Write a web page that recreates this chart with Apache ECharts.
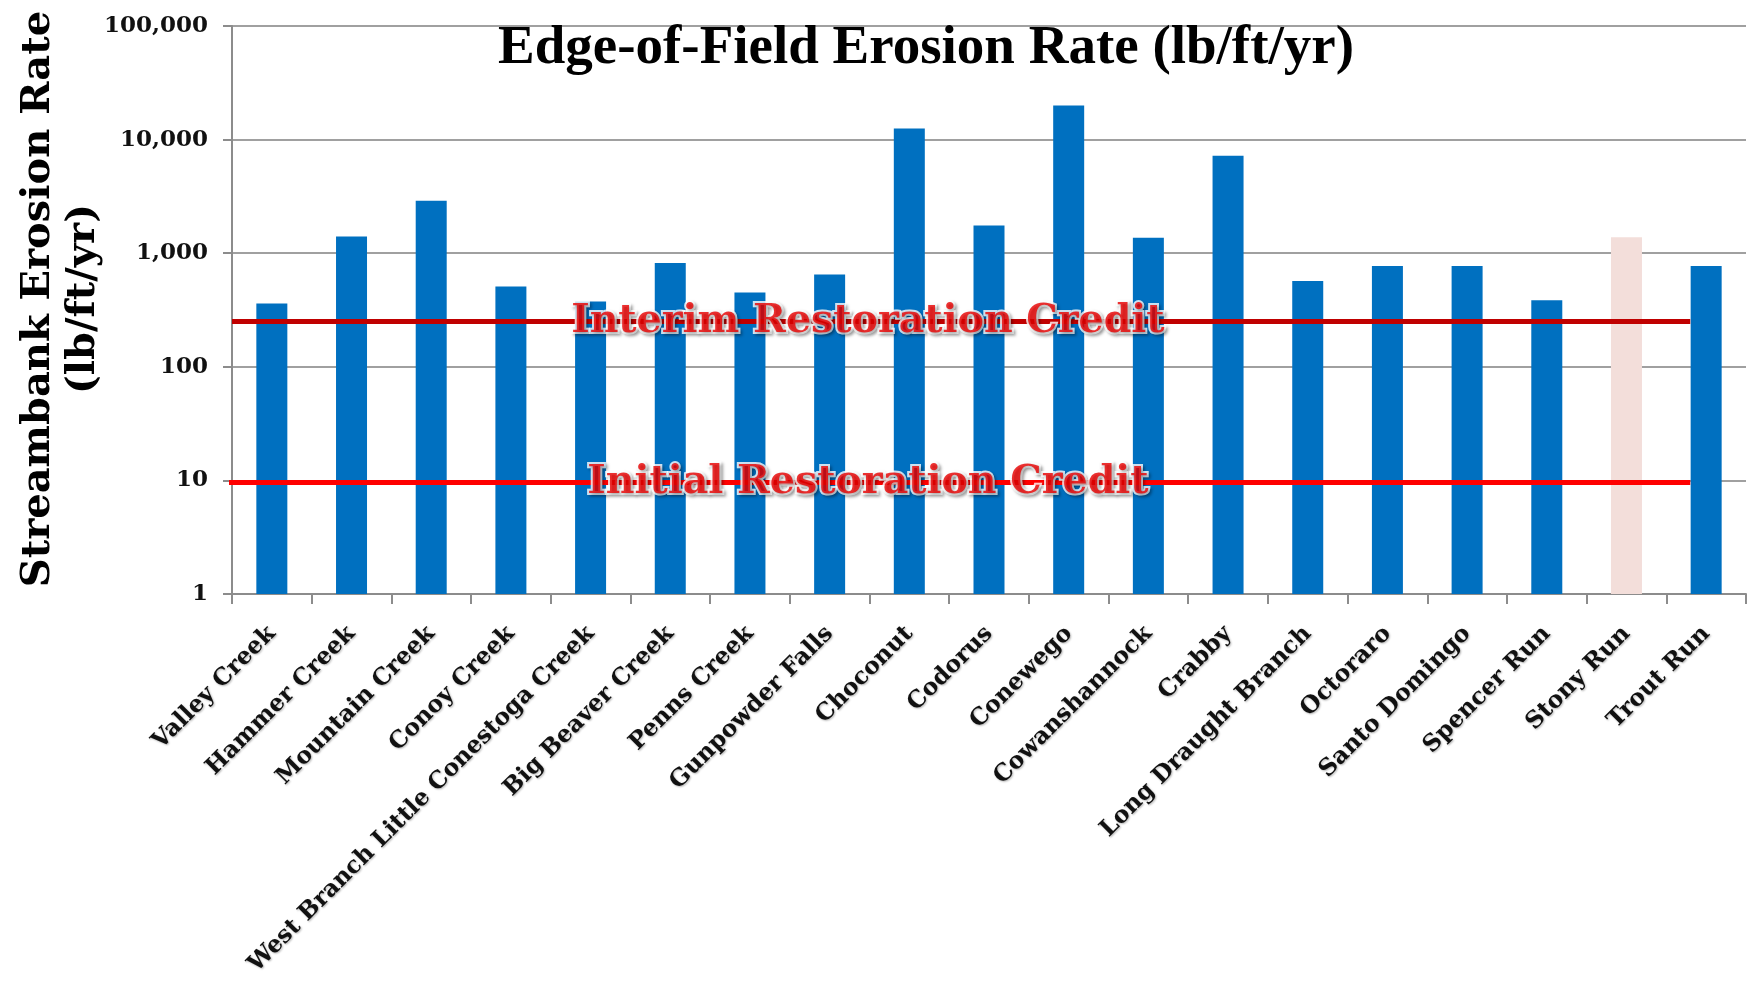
<!DOCTYPE html>
<html>
<head>
<meta charset="utf-8">
<script src="https://cdn.jsdelivr.net/npm/echarts@6/dist/echarts.min.js"></script>
<style>
html,body{margin:0;padding:0;background:#fff;}
#chart{width:1754px;height:986px;}
</style>
</head>
<body>
<div id="chart"></div>
<script>
// ---- data ----
const categories = ['Valley Creek','Hammer Creek','Mountain Creek','Conoy Creek','West Branch Little Conestoga Creek','Big Beaver Creek','Penns Creek','Gunpowder Falls','Choconut','Codorus','Conewego','Cowanshannock','Crabby','Long Draught Branch','Octoraro','Santo Domingo','Spencer Run','Stony Run','Trout Run'];
const erosionRates = [360, 1400, 2900, 510, 375, 820, 450, 650, 12500, 1750, 20000, 1370, 7200, 570, 770, 770, 385, 1380, 770];
const highlightedCategory = 'Stony Run';
const yTickValues = [1, 10, 100, 1000, 10000, 100000];
const creditNames = ['Interim Restoration Credit', 'Initial Restoration Credit'];
const creditValues = [250, 9.6];
const titleText = 'Edge-of-Field Erosion Rate (lb/ft/yr)';
const yAxisTitle = 'Streambank Erosion Rate\n(lb/ft/yr)';

const chart = echarts.init(document.getElementById('chart'));
const georgiaLike = 'DejaVu Serif';
const timesLike = 'Liberation Serif';
const n = categories.length;
const lastIdx = categories.indexOf('Trout Run');

const labelStyle = {
  fontFamily: georgiaLike, fontWeight: 'bold', fontSize: 39.5, color: '#E80000',
  textBorderColor: '#ffffff', textBorderWidth: 4,
  textShadowColor: 'rgba(0,0,0,0.35)', textShadowBlur: 3, textShadowOffsetX: 2, textShadowOffsetY: 2
};

const option = {
  animation: false,
  backgroundColor: '#ffffff',
  title: {
    text: titleText,
    left: 921,
    top: 16,
    textAlign: 'center',
    textStyle: { fontFamily: timesLike, fontWeight: 'bold', fontSize: 55, color: '#000' }
  },
  grid: { left: 232, right: 8, top: 26, bottom: 392, containLabel: false, outerBoundsMode: 'none' },
  xAxis: [
    {
      type: 'category',
      data: categories,
      boundaryGap: true,
      axisLine: { show: true, lineStyle: { color: '#8c8c8c', width: 2 } },
      axisTick: { show: true, interval: 0, length: 10, lineStyle: { color: '#8c8c8c', width: 2 } },
      axisLabel: {
        interval: 0, rotate: 45, margin: 36,
        fontFamily: georgiaLike, fontWeight: 'bold', fontSize: 23.5, color: '#111',
        textShadowColor: 'rgba(0,0,0,0.3)', textShadowBlur: 2, textShadowOffsetX: 1, textShadowOffsetY: 1
      },
      splitLine: { show: false }
    },
    { type: 'value', min: 0, max: n, show: false }
  ],
  yAxis: {
    type: 'log',
    logBase: 10,
    min: yTickValues[0],
    max: yTickValues[yTickValues.length - 1],
    name: yAxisTitle,
    nameLocation: 'middle',
    nameRotate: 90,
    nameGap: 126,
    nameMoveOverlap: false,
    nameTextStyle: { fontFamily: georgiaLike, fontWeight: 'bold', fontSize: 40, lineHeight: 45, color: '#000', padding: [0, 0, 0, 22] },
    axisLine: { show: true, lineStyle: { color: '#8c8c8c', width: 2 } },
    axisTick: { show: true, length: 9, lineStyle: { color: '#8c8c8c', width: 2 } },
    axisLabel: {
      margin: 24,
      fontFamily: georgiaLike, fontWeight: 'bold', fontSize: 23, color: '#111',
      formatter: v => Math.round(v).toLocaleString('en-US')
    },
    splitLine: { show: true, lineStyle: { color: '#a0a0a0', width: 2 } }
  },
  series: [
    {
      type: 'bar',
      data: erosionRates.map((v, i) => ({
        value: v,
        itemStyle: { color: categories[i] === highlightedCategory ? '#F3DEDA' : '#0070C0' }
      })),
      barWidth: 31,
      z: 2
    },
    {
      type: 'line',
      xAxisIndex: 1,
      data: [[0, creditValues[0]], [lastIdx + 0.3, creditValues[0]]],
      symbol: 'none',
      lineStyle: { color: '#C00000', width: 5 },
      z: 3,
      silent: true
    },
    {
      type: 'line',
      xAxisIndex: 1,
      clip: false,
      data: [[-0.18, creditValues[1]], [lastIdx + 0.3, creditValues[1]]],
      symbol: 'none',
      lineStyle: { color: '#FF0000', width: 5 },
      z: 3,
      silent: true
    },
    {
      type: 'scatter',
      xAxisIndex: 1,
      symbolSize: 0,
      z: 5,
      data: creditNames.map((name, i) => [7.98, creditValues[i], name]),
      label: Object.assign({ show: true, position: 'inside', formatter: p => p.data[2] }, labelStyle)
    }
  ]
};
chart.setOption(option);
</script>
</body>
</html>
